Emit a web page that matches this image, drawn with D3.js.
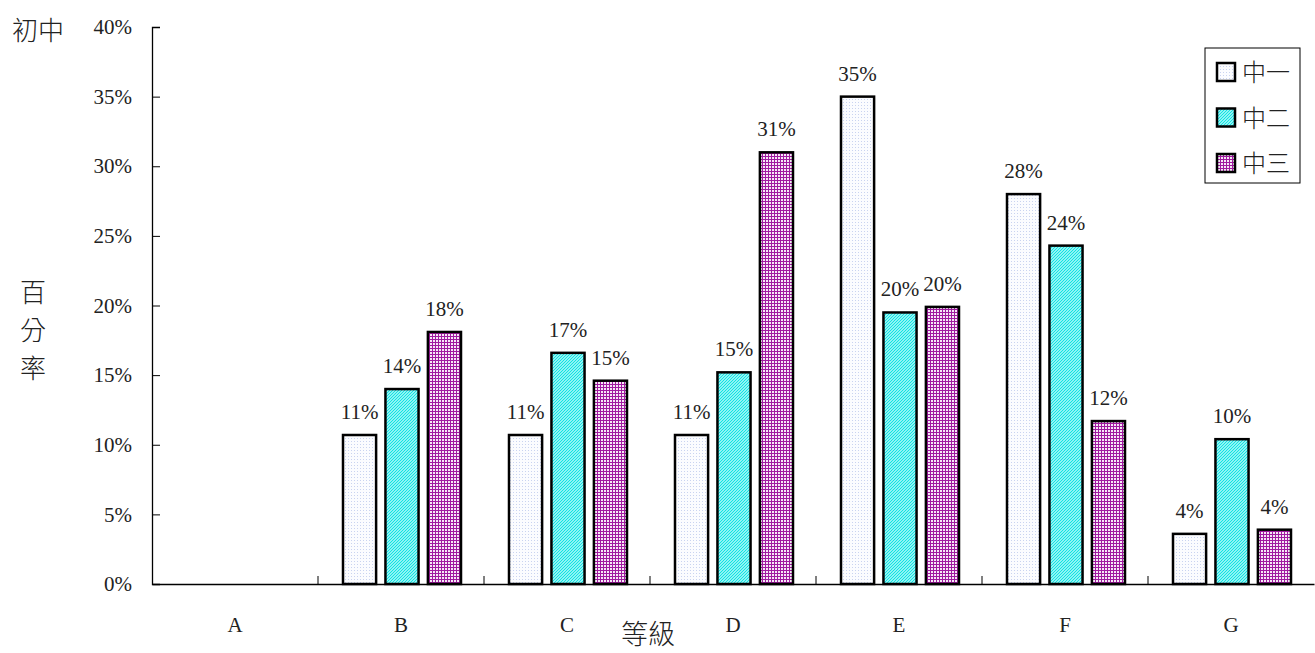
<!DOCTYPE html>
<html>
<head>
<meta charset="utf-8">
<script src="https://cdn.jsdelivr.net/npm/d3@7"></script>
<style>
  body { margin: 0; background: #fff; }
  text { font-family: "Liberation Serif", "Times New Roman", "DejaVu Serif", serif; fill: #222; }
  .cjk { font-family: "Noto Sans CJK TC", sans-serif; font-weight: 300; }
</style>
</head>
<body>
<div id="chart"></div>
<script>
// data
const grades = ["A", "B", "C", "D", "E", "F", "G"];
const seriesNames = ["中一", "中二", "中三"];
const form1 = [null, 10.7, 10.7, 10.7, 35.0, 28.0, 3.6];
const form2 = [null, 14.0, 16.6, 15.2, 19.5, 24.3, 10.4];
const form3 = [null, 18.1, 14.6, 31.0, 19.9, 11.7, 3.9];
const yTicks = [0, 5, 10, 15, 20, 25, 30, 35, 40];

const series = [form1, form2, form3];
const serifFont = "'Liberation Serif', 'Times New Roman', 'DejaVu Serif', serif";

let width = 1315, height = 653;
let margin = { top: 27, right: 1, bottom: 69, left: 152 };

let svg = d3.select("#chart").append("svg")
    .attr("width", width)
    .attr("height", height);

// patterns
let defs = svg.append("defs");

let p1 = defs.append("pattern").attr("id", "pat1")
    .attr("patternUnits", "userSpaceOnUse").attr("width", 3).attr("height", 3);
p1.append("rect").attr("width", 3).attr("height", 3).attr("fill", "#fbfcff");
p1.append("rect").attr("width", 1).attr("height", 1).attr("fill", "#c9d3f0");

let p2 = defs.append("pattern").attr("id", "pat2")
    .attr("patternUnits", "userSpaceOnUse").attr("width", 3).attr("height", 3);
p2.append("rect").attr("width", 3).attr("height", 3).attr("fill", "#8ff4f4");
p2.append("path").attr("d", "M0,3 L3,0 M-1,1 L1,-1 M2,4 L4,2")
    .attr("stroke", "#12e2e2").attr("stroke-width", 1);

let p3 = defs.append("pattern").attr("id", "pat3")
    .attr("patternUnits", "userSpaceOnUse").attr("width", 3).attr("height", 3);
p3.append("rect").attr("width", 3).attr("height", 3).attr("fill", "#f6e8f6");
p3.append("rect").attr("width", 3).attr("height", 1).attr("fill", "#a01aa0");
p3.append("rect").attr("width", 1).attr("height", 3).attr("fill", "#a01aa0");

const fills = ["url(#pat1)", "url(#pat2)", "url(#pat3)"];

// scales
let x = d3.scaleBand().domain(grades)
    .range([margin.left, width - margin.right]);
let xInner = d3.scaleBand().domain([0, 1, 2])
    .range([25, x.bandwidth() - 23]).paddingInner(0.22);
let y = d3.scaleLinear().domain([0, 40])
    .range([height - margin.bottom, margin.top]);

let g = svg.append("g");

// y axis
let yAxis = d3.axisLeft(y).tickValues(yTicks).tickFormat(d => d + "%").tickSize(-8).tickPadding(20);
let yG = g.append("g").attr("transform", `translate(${margin.left},0)`).call(yAxis);
yG.attr("font-family", serifFont);
yG.select(".domain").attr("stroke", "#000").attr("stroke-width", 1.3);
yG.selectAll(".tick line").attr("stroke", "#000");
yG.selectAll("text").attr("font-size", 21).style("font-family", serifFont).attr("fill", "#222");

// x axis
let xAxis = d3.axisBottom(x).tickSize(0).tickPadding(33);
let xG = g.append("g").attr("transform", `translate(0,${y(0)})`).call(xAxis);
xG.attr("font-family", serifFont);
xG.select(".domain").attr("stroke", "#000").attr("stroke-width", 1.5);
xG.selectAll("text").attr("font-size", 21).style("font-family", serifFont).attr("fill", "#222");

// category separators
g.selectAll(".sep").data(grades.slice(1))
  .enter().append("line")
    .attr("class", "sep")
    .attr("x1", d => x(d)).attr("x2", d => x(d))
    .attr("y1", y(0)).attr("y2", y(0) - 8)
    .attr("stroke", "#000");

// bars
series.forEach((vals, i) => {
  let data = grades.map((gr, j) => ({ grade: gr, value: vals[j] })).filter(d => d.value !== null);
  g.selectAll(".bar" + i).data(data)
    .enter().append("rect")
      .attr("class", "bar" + i)
      .attr("x", d => x(d.grade) + xInner(i))
      .attr("y", d => y(d.value))
      .attr("width", xInner.bandwidth())
      .attr("height", d => y(0) - y(d.value))
      .attr("fill", fills[i])
      .attr("stroke", "#000")
      .attr("stroke-width", 2.5);

  g.selectAll(".lab" + i).data(data)
    .enter().append("text")
      .attr("class", "lab" + i)
      .attr("x", d => x(d.grade) + xInner(i) + xInner.bandwidth() / 2)
      .attr("y", d => y(d.value) - 16)
      .attr("text-anchor", "middle")
      .attr("font-size", 21)
      .style("font-family", serifFont)
      .text(d => Math.round(d.value) + "%");
});

// titles
svg.append("text").attr("class", "cjk")
    .attr("x", 12).attr("y", 40)
    .attr("font-size", 26).text("初中");

["百", "分", "率"].forEach((c, i) => {
  svg.append("text").attr("class", "cjk")
    .attr("x", 33).attr("y", 302 + i * 38)
    .attr("text-anchor", "middle")
    .attr("font-size", 26).text(c);
});

svg.append("text").attr("class", "cjk")
    .attr("x", 648).attr("y", 644)
    .attr("text-anchor", "middle")
    .attr("font-size", 27).text("等級");

// legend
let legend = svg.append("g").attr("transform", "translate(1205,48)");
legend.append("rect").attr("width", 95).attr("height", 135)
    .attr("fill", "#fff").attr("stroke", "#000").attr("stroke-width", 1);
seriesNames.forEach((name, i) => {
  let ly = 24 + i * 45.5;
  legend.append("rect")
    .attr("x", 12).attr("y", ly - 9).attr("width", 18).attr("height", 18)
    .attr("fill", fills[i]).attr("stroke", "#000").attr("stroke-width", 2.5);
  legend.append("text").attr("class", "cjk")
    .attr("x", 37).attr("y", ly + 9)
    .attr("font-size", 24).text(name);
});
</script>
</body>
</html>
